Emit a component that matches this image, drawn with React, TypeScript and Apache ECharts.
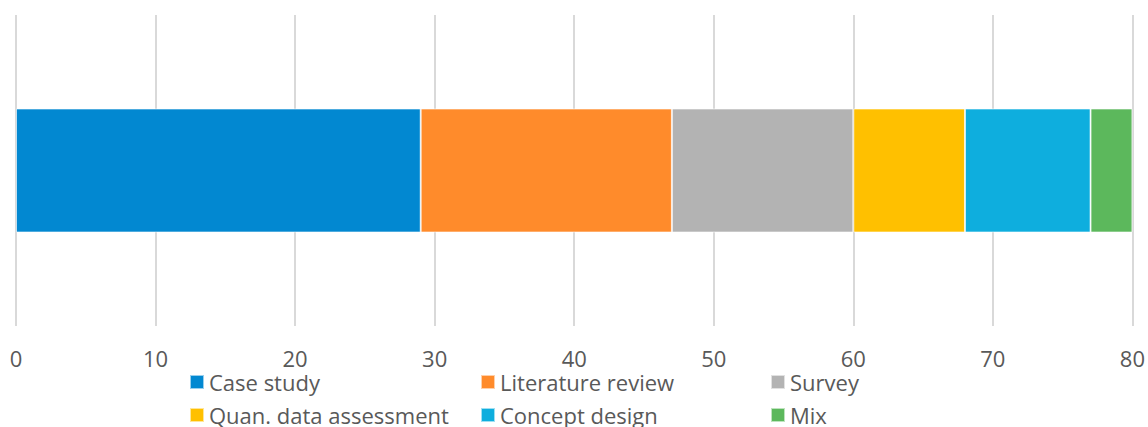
import React, { useEffect, useRef } from "react";
import * as echarts from "echarts";

const categories = ["Methods"];
const seriesNames = ["Case study", "Literature review", "Survey", "Quan. data assessment", "Concept design", "Mix"];
const seriesValues = [29, 18, 13, 8, 9, 3];
const seriesColors = ["#0288D1", "#FF8B2B", "#B3B3B3", "#FFC000", "#0EAEDE", "#5CB85C"];
const xTicks = { min: 0, max: 80, interval: 10 };

const FONT = "'Open Sans', sans-serif";
const legendLefts = [189, 480, 770];
const legendTops = [371, 404];

export default function App() {
  const ref = useRef<HTMLDivElement>(null);
  useEffect(() => {
    if (!ref.current) return;
    const chart = echarts.init(ref.current, undefined, { renderer: "svg" });
    const legendText = { color: "#595959", fontSize: 22, lineHeight: 22, fontFamily: FONT };
    chart.setOption({
      animation: false,
      grid: { left: 16, right: 14, top: 15, bottom: 101 },
      xAxis: {
        type: "value",
        min: xTicks.min,
        max: xTicks.max,
        interval: xTicks.interval,
        axisLine: { show: false },
        axisTick: { show: false },
        splitLine: { show: true, lineStyle: { color: "#D9D9D9", width: 2 } },
        axisLabel: { color: "#595959", fontSize: 22, lineHeight: 22, fontFamily: FONT, margin: 21 },
      },
      yAxis: {
        type: "category",
        data: categories,
        show: false,
      },
      legend: seriesNames.map((name, i) => ({
        data: [name],
        left: legendLefts[i % 3],
        top: legendTops[Math.floor(i / 3)],
        padding: 0,
        itemWidth: 14,
        itemHeight: 14,
        itemGap: 0,
        icon: "rect",
        textStyle: legendText,
      })),
      series: seriesNames.map((name, i) => ({
        name,
        type: "bar",
        stack: "total",
        barWidth: 124,
        data: [seriesValues[i]],
        itemStyle: { color: seriesColors[i], borderColor: "rgba(255,255,255,0.6)", borderWidth: 1 },
      })),
    });
    return () => chart.dispose();
  }, []);
  return (
    <div
      ref={ref}
      style={{ position: "absolute", left: 0, top: 0, width: 1148, height: 427, background: "#fff" }}
    />
  );
}
